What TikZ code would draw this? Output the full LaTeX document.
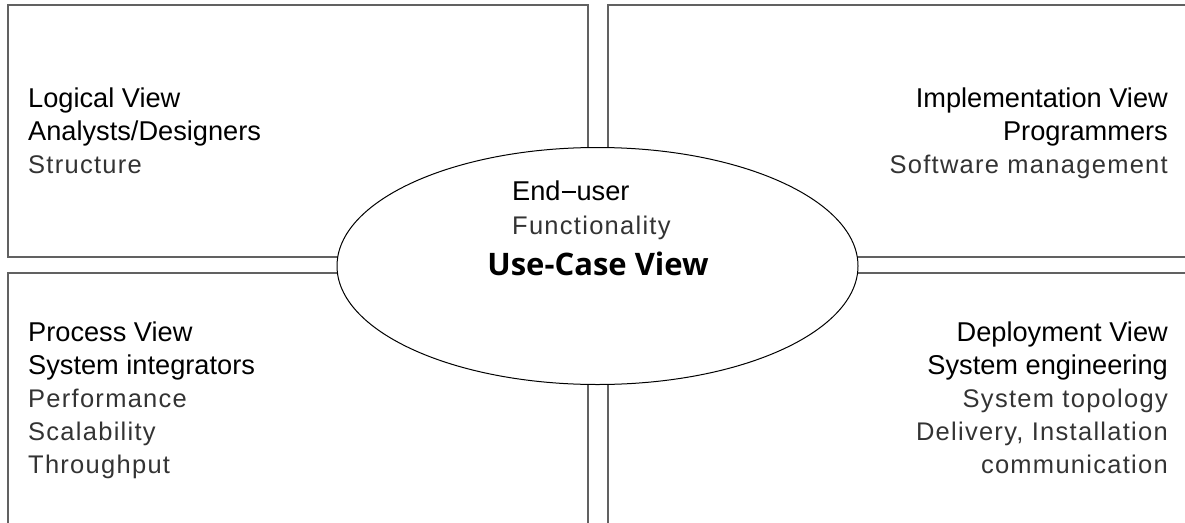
\documentclass[tikz,border=0pt]{standalone}
\usepackage{fontspec}
\setmainfont{Liberation Sans}
\newfontfamily\descfont[LetterSpace=5]{Liberation Sans}
\newfontfamily\ucfont{Open Sans}
\usetikzlibrary{shapes.geometric}
\begin{document}
\begin{tikzpicture}[x=1pt,y=-1pt,
  ttl/.style={inner sep=0pt, font=\fontsize{27.2}{30}\selectfont, text=black},
  dsc/.style={inner sep=0pt, font=\descfont\fontsize{25.5}{30}\selectfont, text=black!80},
  boxline/.style={draw=black!62, line width=1.2pt},
  ucell/.style={ellipse, draw=black, line width=1pt, fill=white, inner sep=0pt,
                minimum width=521pt, minimum height=237pt},
  uctitle/.style={inner sep=0pt, font=\ucfont\bfseries\fontsize{31}{33}\selectfont, text=black}]
\useasboundingbox (0,0) rectangle (1185,522);
\begin{scope}
  \clip (0,0) rectangle (1185,522);
  \draw[boxline] (8,5) rectangle (588,257);
  \draw[boxline] (608,5) rectangle (1210,257);
  \draw[boxline] (8,273) rectangle (588,560);
  \draw[boxline] (608,273) rectangle (1210,560);
  \node[ucell] (uc) at (597.5,266) {};
\end{scope}
% Logical view
\node[ttl, anchor=base west] (lv1) at (28,107) {Logical View};
\node[ttl, anchor=base west] (lv2) at (28,140) {Analysts/Designers};
\node[dsc, anchor=base west] (lv3) at (28,173) {Structure};
% Implementation view
\node[ttl, anchor=base east] (iv1) at (1168,107) {Implementation View};
\node[ttl, anchor=base east] (iv2) at (1168,140) {Programmers};
\node[dsc, anchor=base east] (iv3) at (1168,173) {Software management};
% Process view
\node[ttl, anchor=base west] (pv1) at (28,341) {Process View};
\node[ttl, anchor=base west] (pv2) at (28,374) {System integrators};
\node[dsc, anchor=base west] (pv3) at (28,407) {Performance};
\node[dsc, anchor=base west] (pv4) at (28,440) {Scalability};
\node[dsc, anchor=base west] (pv5) at (28,473) {Throughput};
% Deployment view
\node[ttl, anchor=base east] (dv1) at (1168,341) {Deployment View};
\node[ttl, anchor=base east] (dv2) at (1168,374) {System engineering};
\node[dsc, anchor=base east] (dv3) at (1168,407) {System topology};
\node[dsc, anchor=base east] (dv4) at (1168,440) {Delivery, Installation};
\node[dsc, anchor=base east] (dv5) at (1168,473) {communication};
% Use-case view
\node[ttl, anchor=base west] (uc1) at (512,200) {End\kern1pt\rule[7.5pt]{14pt}{1.6pt}\kern1pt user};
\node[dsc, anchor=base west] (uc2) at (512,234) {Functionality};
\node[uctitle, anchor=base] (uc3) at (598,275) {Use-Case View};
\end{tikzpicture}
\end{document}
